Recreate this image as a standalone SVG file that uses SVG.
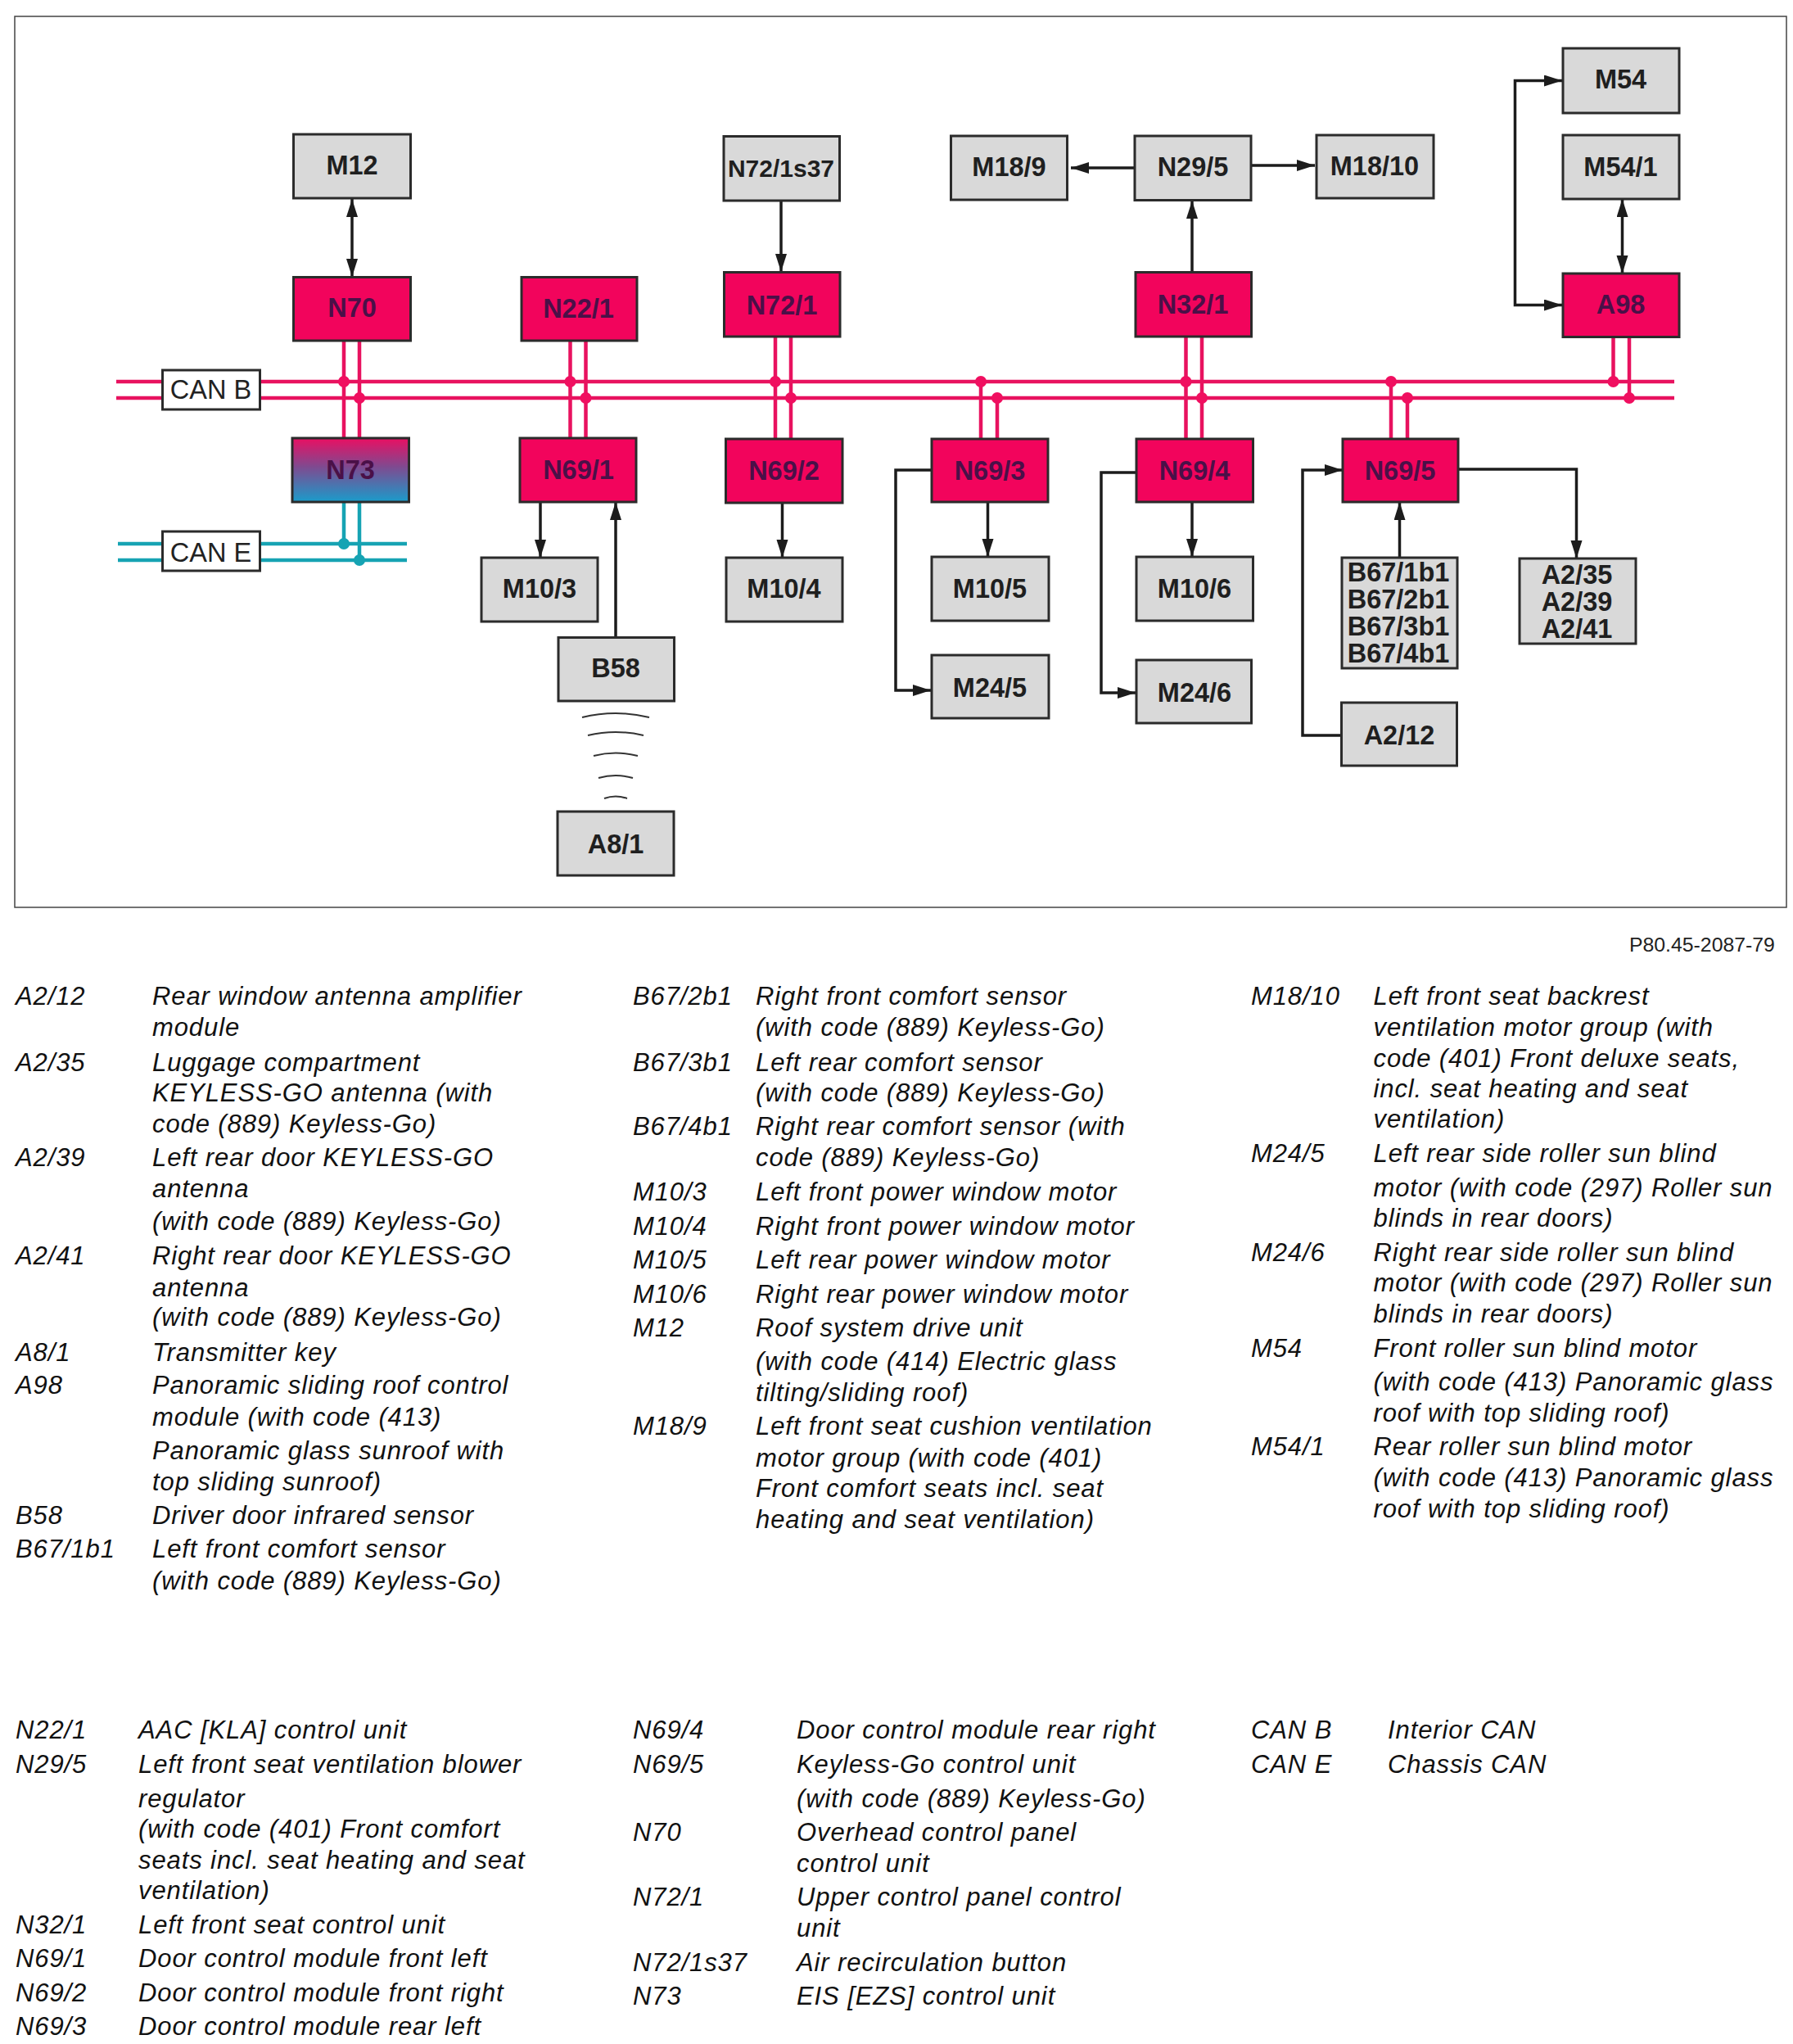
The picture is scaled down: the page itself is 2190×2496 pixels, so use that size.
<svg xmlns="http://www.w3.org/2000/svg" width="2190" height="2496" viewBox="0 0 2190 2496">
<style>
.n rect{stroke:#2b2b2b;stroke-width:3;fill:#d9d9d9}
.n.r rect{fill:#f2045c}
.n.t rect{fill:url(#g73)}
.n.c rect{fill:#fff;stroke-width:3}
.n text{font:bold 32.5px "Liberation Sans",Arial,sans-serif;fill:#1f1f1f;text-anchor:middle}
.n.r text,.n.t text{fill:#4a1048}
.n.c text{font-weight:normal;fill:#222}
.w{fill:none;stroke:#1c1c1c;stroke-width:3.5}
.a{marker-end:url(#ah)}
.b{marker-start:url(#ah);marker-end:url(#ah)}
.p{fill:none;stroke:#e8125f;stroke-width:4.5}
.e{fill:none;stroke:#16a3b3;stroke-width:4.5}
.pd{fill:#f00f60}
.ed{fill:#16a3b3}
.arc{fill:none;stroke:#333;stroke-width:2}
.l text{font:italic 31px "Liberation Sans",Arial,sans-serif;letter-spacing:.9px;fill:#111}
.ref{font:24.5px "Liberation Sans",Arial,sans-serif;fill:#222}
</style>
<defs>
<linearGradient id="g73" x1="0" y1="0" x2="0" y2="1"><stop offset="0" stop-color="#ea0f62"/><stop offset=".45" stop-color="#7f4a90"/><stop offset="1" stop-color="#1a9ccb"/></linearGradient>
<marker id="ah" markerUnits="userSpaceOnUse" markerWidth="24" markerHeight="16" refX="22" refY="7" orient="auto-start-reverse"><path d="M0,0L22,7L0,14z" fill="#1c1c1c"/></marker>
</defs>
<rect x="18" y="20" width="2164" height="1088" fill="#fff" stroke="#444" stroke-width="1.5"/>
<g id="connectors">
<path class="p" d="M142,466H2045M142,486H2045"/>
<path class="e" d="M144,664H497M144,684H497"/>
<path class="p" d="M420,416V535M439,416V535M696.500,416V535M715.500,416V535M947,411V536M966,411V536M1198,466V536M1218,486V536M1448.500,411V536M1468,411V536M1699,466V536M1719,486V536M1970.500,411V466M1990,411V486"/>
<path class="e" d="M420,613V664M439,613V684"/>
<g class="pd"><circle cx="420" cy="466" r="7"/><circle cx="439" cy="486" r="7"/><circle cx="696.500" cy="466" r="7"/><circle cx="715.500" cy="486" r="7"/><circle cx="947" cy="466" r="7"/><circle cx="966" cy="486" r="7"/><circle cx="1198" cy="466" r="7"/><circle cx="1218" cy="486" r="7"/><circle cx="1448.500" cy="466" r="7"/><circle cx="1468" cy="486" r="7"/><circle cx="1699" cy="466" r="7"/><circle cx="1719" cy="486" r="7"/><circle cx="1970.500" cy="466" r="7"/><circle cx="1990" cy="486" r="7"/></g>
<g class="ed"><circle cx="420" cy="664" r="7"/><circle cx="439" cy="684" r="7"/></g>
<path class="w b" d="M430,243V338"/>
<path class="w a" d="M954,245V332"/>
<path class="w a" d="M660,613V681"/>
<path class="w a" d="M752,778V613"/>
<path class="w a" d="M955.500,614V681"/>
<path class="w a" d="M1386,205H1308"/>
<path class="w a" d="M1528,202H1606"/>
<path class="w a" d="M1456,332V245"/>
<path class="w a" d="M1908,98.500H1850.500V372.500H1908" style="marker-start:url(#ah)"/>
<path class="w b" d="M1981.500,243V334"/>
<path class="w a" d="M1137,574H1094V843H1137"/>
<path class="w a" d="M1206.500,613V680"/>
<path class="w a" d="M1387,577H1345V846H1387"/>
<path class="w a" d="M1456,613V680"/>
<path class="w a" d="M1638,898H1591V574H1640"/>
<path class="w a" d="M1709.500,681V613"/>
<path class="w a" d="M1781,573H1925.500V682"/>
</g>
<g id="wave">
<path class="arc" d="M711,876Q752,866 793,876"/>
<path class="arc" d="M718,898Q752,890 786,898"/>
<path class="arc" d="M725,923Q752,916 779,923"/>
<path class="arc" d="M731,950Q752,944 773,950"/>
<path class="arc" d="M738,975Q752,970 766,975"/>
</g>
<g id="M12" class="n"><rect x="358.500" y="164" width="143" height="78"/><text x="430" y="213">M12</text></g>
<g id="N70" class="n r"><rect x="358.500" y="338.500" width="143" height="77.500"/><text x="430" y="387">N70</text></g>
<g id="N22-1" class="n r"><rect x="637" y="338.500" width="141" height="77.500"/><text x="706.500" y="387.500">N22/1</text></g>
<g id="N72-1s37" class="n"><rect x="884" y="166.500" width="141.500" height="78.500"/><text x="954" y="216" style="font-size:30px">N72/1s37</text></g>
<g id="N72-1" class="n r"><rect x="884.500" y="332.500" width="141.500" height="78.500"/><text x="955" y="383.500">N72/1</text></g>
<g id="N73" class="n t"><rect x="357" y="535" width="142.500" height="78"/><text x="428" y="585">N73</text></g>
<g id="N69-1" class="n r"><rect x="635" y="535" width="142" height="78"/><text x="706.500" y="585">N69/1</text></g>
<g id="N69-2" class="n r"><rect x="886.500" y="536" width="142.500" height="78"/><text x="957.500" y="586">N69/2</text></g>
<g id="M10-3" class="n"><rect x="588" y="681" width="142" height="78"/><text x="659" y="729.500">M10/3</text></g>
<g id="M10-4" class="n"><rect x="887" y="681" width="142" height="78"/><text x="957.500" y="729.500">M10/4</text></g>
<g id="B58" class="n"><rect x="682" y="778.500" width="141.500" height="77.500"/><text x="752" y="827">B58</text></g>
<g id="A8-1" class="n"><rect x="681" y="991" width="142" height="78"/><text x="752" y="1042">A8/1</text></g>
<g id="CAN-B" class="n c"><rect x="198.500" y="452" width="119" height="48"/><text x="257.500" y="487">CAN B</text></g>
<g id="CAN-E" class="n c"><rect x="198.500" y="649" width="119" height="48"/><text x="257.500" y="686">CAN E</text></g>
<g id="M18-9" class="n"><rect x="1161.500" y="166" width="142" height="78"/><text x="1232.500" y="214.500">M18/9</text></g>
<g id="N29-5" class="n"><rect x="1386" y="166" width="142" height="78.500"/><text x="1457" y="214.500">N29/5</text></g>
<g id="M18-10" class="n"><rect x="1608" y="165" width="143" height="77"/><text x="1679" y="214">M18/10</text></g>
<g id="N32-1" class="n r"><rect x="1387" y="332.500" width="141.500" height="78.500"/><text x="1457" y="382.500">N32/1</text></g>
<g id="M54" class="n"><rect x="1909" y="59" width="142" height="79"/><text x="1979.500" y="108">M54</text></g>
<g id="M54-1" class="n"><rect x="1909" y="165" width="142" height="78"/><text x="1979.500" y="214.500">M54/1</text></g>
<g id="A98" class="n r"><rect x="1909" y="334" width="142" height="77.500"/><text x="1979.500" y="383">A98</text></g>
<g id="N69-3" class="n r"><rect x="1138" y="536" width="142" height="77"/><text x="1209" y="585.500">N69/3</text></g>
<g id="N69-4" class="n r"><rect x="1388" y="536" width="142.500" height="77"/><text x="1459" y="585.500">N69/4</text></g>
<g id="N69-5" class="n r"><rect x="1640" y="536" width="141" height="77"/><text x="1710" y="585.500">N69/5</text></g>
<g id="M10-5" class="n"><rect x="1138" y="680" width="143" height="78"/><text x="1209" y="730">M10/5</text></g>
<g id="M10-6" class="n"><rect x="1388" y="680" width="142.500" height="78"/><text x="1459" y="730">M10/6</text></g>
<g id="M24-5" class="n"><rect x="1138" y="800" width="143" height="77"/><text x="1209" y="850.500">M24/5</text></g>
<g id="M24-6" class="n"><rect x="1388" y="806" width="140.500" height="77"/><text x="1459" y="856.500">M24/6</text></g>
<g id="B67" class="n"><rect x="1639" y="681" width="141" height="135"/><text x="1708" y="710">B67/1b1</text><text x="1708" y="743">B67/2b1</text><text x="1708" y="776">B67/3b1</text><text x="1708" y="808.500">B67/4b1</text></g>
<g id="A2-35" class="n"><rect x="1856" y="682" width="142" height="104"/><text x="1926" y="712.500">A2/35</text><text x="1926" y="745.500">A2/39</text><text x="1926" y="778.500">A2/41</text></g>
<g id="A2-12" class="n"><rect x="1638.500" y="858" width="141" height="77"/><text x="1709" y="908.500">A2/12</text></g>
<text class="ref" x="1990" y="1161.500" style="font-size:24.800px">P80.45-2087-79</text>
<g id="legend" class="l">
<text x="19" y="1227">A2/12</text><text x="186" y="1227">Rear window antenna amplifier</text><text x="186" y="1265">module</text>
<text x="19" y="1307.500">A2/35</text><text x="186" y="1307.500">Luggage compartment</text><text x="186" y="1345">KEYLESS-GO antenna (with</text><text x="186" y="1382.500">code (889) Keyless-Go)</text>
<text x="19" y="1423.500">A2/39</text><text x="186" y="1423.500">Left rear door KEYLESS-GO</text><text x="186" y="1462">antenna</text><text x="186" y="1501.500">(with code (889) Keyless-Go)</text>
<text x="19" y="1544">A2/41</text><text x="186" y="1544">Right rear door KEYLESS-GO</text><text x="186" y="1582.500">antenna</text><text x="186" y="1619">(with code (889) Keyless-Go)</text>
<text x="19" y="1661.500">A8/1</text><text x="186" y="1661.500">Transmitter key</text>
<text x="19" y="1702">A98</text><text x="186" y="1702">Panoramic sliding roof control</text><text x="186" y="1740.500">module (with code (413)</text><text x="186" y="1782">Panoramic glass sunroof with</text><text x="186" y="1819.500">top sliding sunroof)</text>
<text x="19" y="1861">B58</text><text x="186" y="1861">Driver door infrared sensor</text>
<text x="19" y="1902">B67/1b1</text><text x="186" y="1902">Left front comfort sensor</text><text x="186" y="1940.500">(with code (889) Keyless-Go)</text>
<text x="773" y="1227">B67/2b1</text><text x="923" y="1227">Right front comfort sensor</text><text x="923" y="1265">(with code (889) Keyless-Go)</text>
<text x="773" y="1307.500">B67/3b1</text><text x="923" y="1307.500">Left rear comfort sensor</text><text x="923" y="1345">(with code (889) Keyless-Go)</text>
<text x="773" y="1386">B67/4b1</text><text x="923" y="1386">Right rear comfort sensor (with</text><text x="923" y="1424">code (889) Keyless-Go)</text>
<text x="773" y="1466">M10/3</text><text x="923" y="1466">Left front power window motor</text>
<text x="773" y="1508">M10/4</text><text x="923" y="1508">Right front power window motor</text>
<text x="773" y="1549">M10/5</text><text x="923" y="1549">Left rear power window motor</text>
<text x="773" y="1590.500">M10/6</text><text x="923" y="1590.500">Right rear power window motor</text>
<text x="773" y="1632">M12</text><text x="923" y="1632">Roof system drive unit</text><text x="923" y="1673">(with code (414) Electric glass</text><text x="923" y="1711">tilting/sliding roof)</text>
<text x="773" y="1752">M18/9</text><text x="923" y="1752">Left front seat cushion ventilation</text><text x="923" y="1791">motor group (with code (401)</text><text x="923" y="1828">Front comfort seats incl. seat</text><text x="923" y="1866">heating and seat ventilation)</text>
<text x="1528" y="1227">M18/10</text><text x="1677.500" y="1227">Left front seat backrest</text><text x="1677.500" y="1265">ventilation motor group (with</text><text x="1677.500" y="1302.500">code (401) Front deluxe seats,</text><text x="1677.500" y="1340">incl. seat heating and seat</text><text x="1677.500" y="1377">ventilation)</text>
<text x="1528" y="1419">M24/5</text><text x="1677.500" y="1419">Left rear side roller sun blind</text><text x="1677.500" y="1461">motor (with code (297) Roller sun</text><text x="1677.500" y="1498">blinds in rear doors)</text>
<text x="1528" y="1540">M24/6</text><text x="1677.500" y="1540">Right rear side roller sun blind</text><text x="1677.500" y="1577">motor (with code (297) Roller sun</text><text x="1677.500" y="1615">blinds in rear doors)</text>
<text x="1528" y="1657">M54</text><text x="1677.500" y="1657">Front roller sun blind motor</text><text x="1677.500" y="1698">(with code (413) Panoramic glass</text><text x="1677.500" y="1735.500">roof with top sliding roof)</text>
<text x="1528" y="1777">M54/1</text><text x="1677.500" y="1777">Rear roller sun blind motor</text><text x="1677.500" y="1815">(with code (413) Panoramic glass</text><text x="1677.500" y="1852.500">roof with top sliding roof)</text>
<text x="19" y="2123">N22/1</text><text x="169" y="2123">AAC [KLA] control unit</text>
<text x="19" y="2164.500">N29/5</text><text x="169" y="2164.500">Left front seat ventilation blower</text><text x="169" y="2206.500">regulator</text><text x="169" y="2244">(with code (401) Front comfort</text><text x="169" y="2282">seats incl. seat heating and seat</text><text x="169" y="2319">ventilation)</text>
<text x="19" y="2360.500">N32/1</text><text x="169" y="2360.500">Left front seat control unit</text>
<text x="19" y="2402">N69/1</text><text x="169" y="2402">Door control module front left</text>
<text x="19" y="2443.500">N69/2</text><text x="169" y="2443.500">Door control module front right</text>
<text x="19" y="2484.500">N69/3</text><text x="169" y="2484.500">Door control module rear left</text>
<text x="773" y="2123">N69/4</text><text x="973" y="2123">Door control module rear right</text>
<text x="773" y="2164.500">N69/5</text><text x="973" y="2164.500">Keyless-Go control unit</text><text x="973" y="2206.500">(with code (889) Keyless-Go)</text>
<text x="773" y="2248">N70</text><text x="973" y="2248">Overhead control panel</text><text x="973" y="2285.500">control unit</text>
<text x="773" y="2327">N72/1</text><text x="973" y="2327">Upper control panel control</text><text x="973" y="2365">unit</text>
<text x="773" y="2406.500">N72/1s37</text><text x="973" y="2406.500">Air recirculation button</text>
<text x="773" y="2448">N73</text><text x="973" y="2448">EIS [EZS] control unit</text>
<text x="1528" y="2123">CAN B</text><text x="1695" y="2123">Interior CAN</text>
<text x="1528" y="2164.500">CAN E</text><text x="1695" y="2164.500">Chassis CAN</text>
</g>
</svg>
